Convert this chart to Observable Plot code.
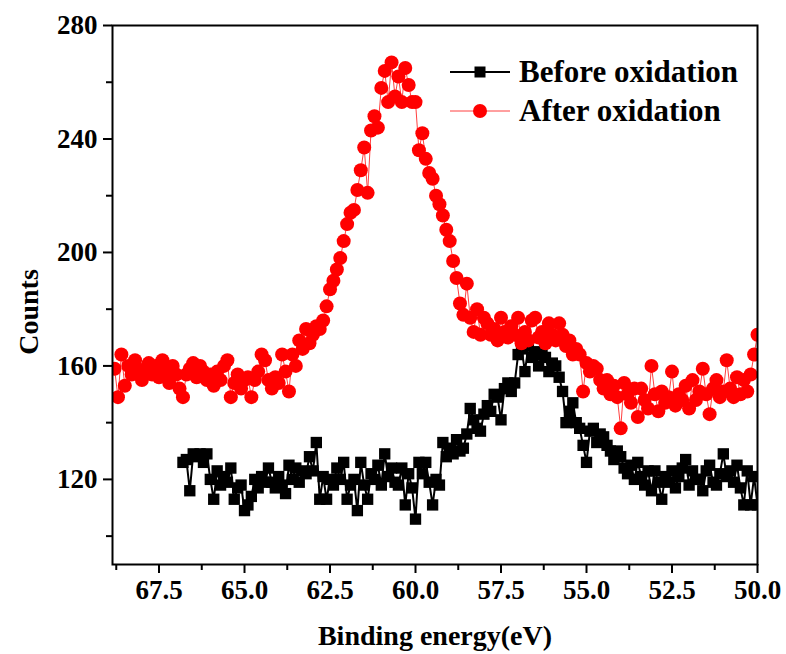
<!DOCTYPE html>
<html>
<head>
<meta charset="utf-8">
<script src="https://cdn.jsdelivr.net/npm/d3@7"></script>
<script src="https://cdn.jsdelivr.net/npm/@observablehq/plot@0.6"></script>
<style>
  html, body { margin: 0; padding: 0; background: #fff; }
  #chart { width: 786px; height: 654px; }
</style>
</head>
<body>
<div id="chart"></div>
<script>
// Binding energy grid (eV), 68.8 -> 50.0
const energy = [
  68.8,68.7,68.6,68.5,68.4,68.3,68.2,68.1,68.0,67.9,
  67.8,67.7,67.6,67.5,67.4,67.3,67.2,67.1,67.0,66.9,
  66.8,66.7,66.6,66.5,66.4,66.3,66.2,66.1,66.0,65.9,
  65.8,65.7,65.6,65.5,65.4,65.3,65.2,65.1,65.0,64.9,
  64.8,64.7,64.6,64.5,64.4,64.3,64.2,64.1,64.0,63.9,
  63.8,63.7,63.6,63.5,63.4,63.3,63.2,63.1,63.0,62.9,
  62.8,62.7,62.6,62.5,62.4,62.3,62.2,62.1,62.0,61.9,
  61.8,61.7,61.6,61.5,61.4,61.3,61.2,61.1,61.0,60.9,
  60.8,60.7,60.6,60.5,60.4,60.3,60.2,60.1,60.0,59.9,
  59.8,59.7,59.6,59.5,59.4,59.3,59.2,59.1,59.0,58.9,
  58.8,58.7,58.6,58.5,58.4,58.3,58.2,58.1,58.0,57.9,
  57.8,57.7,57.6,57.5,57.4,57.3,57.2,57.1,57.0,56.9,
  56.8,56.7,56.6,56.5,56.4,56.3,56.2,56.1,56.0,55.9,
  55.8,55.7,55.6,55.5,55.4,55.3,55.2,55.1,55.0,54.9,
  54.8,54.7,54.6,54.5,54.4,54.3,54.2,54.1,54.0,53.9,
  53.8,53.7,53.6,53.5,53.4,53.3,53.2,53.1,53.0,52.9,
  52.8,52.7,52.6,52.5,52.4,52.3,52.2,52.1,52.0,51.9,
  51.8,51.7,51.6,51.5,51.4,51.3,51.2,51.1,51.0,50.9,
  50.8,50.7,50.6,50.5,50.4,50.3,50.2,50.1,50.0
];

// After oxidation counts
const afterCounts = [
  159,149,164,153,160,157,162,158,155,159,
  161,157,160,156,162,158,154,160,157,152,
  149,157,159,161,156,160,158,155,157,153,
  158,155,160,162,149,154,157,152,155,156,
  149,155,158,164,162,155,152,156,154,164,
  158,151,164,160,169,166,173,168,171,174,
  173,176,181,187,190,194,198,204,210,214,
  215,222,229,237,221,243,248,244,258,264,
  253,267,255,262,253,265,259,253,253,236,
  242,233,228,226,220,217,213,208,204,197,
  191,182,178,189,177,172,180,171,177,175,
  171,173,169,177,172,170,174,171,177,168,
  172,169,176,177,170,172,168,175,171,169,
  175,171,167,169,164,166,164,151,161,158,
  160,159,155,152,155,150,153,149,138,154,
  150,147,152,142,152,148,145,160,150,144,
  151,147,149,158,146,150,148,153,145,155,
  148,151,159,150,143,152,155,149,151,162,
  152,149,156,150,155,151,157,164,171
];

// Before oxidation counts (measured from 66.8 eV)
const beforeCounts = [
  null,null,null,null,null,null,null,null,null,null,
  null,null,null,null,null,null,null,null,null,null,
  126,127,116,129,128,129,126,129,120,113,
  123,118,121,119,124,113,117,118,109,111,
  114,120,117,121,119,124,119,117,121,118,
  115,125,120,124,119,123,122,128,123,133,
  113,121,113,120,118,124,120,126,113,118,
  120,109,126,118,113,122,120,125,118,129,
  121,124,119,118,124,111,122,117,106,126,
  122,126,119,111,120,118,133,128,131,129,
  134,130,131,136,145,141,138,137,143,146,
  144,150,149,141,152,154,151,154,164,166,
  158,167,163,165,160,164,163,158,161,160,
  156,151,140,144,147,140,138,132,126,137,
  138,133,136,135,132,130,127,130,128,124,
  122,125,120,126,121,118,123,116,123,119,
  113,121,119,123,117,121,124,127,118,123,
  120,120,116,123,125,119,118,122,129,121,
  123,119,125,117,111,123,111,121,111
];

const xMajor = [67.5, 65.0, 62.5, 60.0, 57.5, 55.0, 52.5, 50.0];
const xMinor = [68.75, 66.25, 63.75, 61.25, 58.75, 56.25, 53.75, 51.25];
const yMajor = [120, 160, 200, 240, 280];
const yMinor = [100, 140, 180, 220, 260];

const seriesNames = ["Before oxidation", "After oxidation"];

const before = energy.map((e, i) => ({e, v: beforeCounts[i]})).filter(d => d.v != null);
const after = energy.map((e, i) => ({e, v: afterCounts[i]}));

const FONT = "'Liberation Serif', 'Times New Roman', serif";

const chart = Plot.plot({
  width: 786,
  height: 654,
  marginLeft: 112,
  marginRight: 29,
  marginTop: 25,
  marginBottom: 90,
  style: {fontFamily: FONT, fontWeight: "bold", fontSize: "27px", color: "#000", background: "#fff", overflow: "visible"},
  x: {domain: [68.86, 50]},
  y: {domain: [90, 280]},
  marks: [
    Plot.line(before, {x: "e", y: "v", stroke: "#000", strokeWidth: 2, clip: true}),
    Plot.dot(before, {x: "e", y: "v", symbol: "square", r: 6.4, fill: "#000", clip: true}),
    Plot.line(after, {x: "e", y: "v", stroke: "#ff4040", strokeWidth: 1, clip: true}),
    Plot.dot(after, {x: "e", y: "v", r: 7, fill: "#ff0000", clip: true}),
    Plot.axisX({ticks: xMajor, tickSize: 9, tickPadding: 6, strokeWidth: 2, tickFormat: d => d.toFixed(1), label: null}),
    Plot.axisX({ticks: xMinor, tickSize: 6, strokeWidth: 2, tickFormat: () => "", label: null}),
    Plot.axisY({ticks: yMajor, tickSize: 9, tickPadding: 6, strokeWidth: 2, tickFormat: d => String(d), label: null}),
    Plot.axisY({ticks: yMinor, tickSize: 6, strokeWidth: 2, tickFormat: () => "", label: null}),
    Plot.frame({stroke: "#000", strokeWidth: 2})
  ]
});

document.getElementById("chart").appendChild(chart);

// Axis titles and legend
const svg = d3.select(chart);
svg.append("text")
  .attr("x", 435).attr("y", 645)
  .attr("text-anchor", "middle")
  .style("font-family", FONT).style("font-weight", "bold").style("font-size", "28px")
  .text("Binding energy(eV)");
svg.append("text")
  .attr("transform", "translate(38,312) rotate(-90)")
  .attr("text-anchor", "middle")
  .style("font-family", FONT).style("font-weight", "bold").style("font-size", "28px")
  .text("Counts");

const legend = svg.append("g");
const legendStyles = [
  {stroke: "#000", sw: 2, fill: "#000", sym: "square"},
  {stroke: "#ff4040", sw: 1, fill: "#ff0000", sym: "circle"}
];
seriesNames.forEach((name, i) => {
  const y = 72 + i * 39;
  const s = legendStyles[i];
  legend.append("line").attr("x1", 450).attr("x2", 510).attr("y1", y).attr("y2", y)
    .attr("stroke", s.stroke).attr("stroke-width", s.sw);
  if (s.sym === "square") {
    legend.append("rect").attr("x", 474.5).attr("y", y - 5.5).attr("width", 11).attr("height", 11).attr("fill", s.fill);
  } else {
    legend.append("circle").attr("cx", 480).attr("cy", y).attr("r", 7).attr("fill", s.fill);
  }
  legend.append("text").attr("x", 519).attr("y", y + 10)
    .attr("text-anchor", "start")
    .style("font-family", FONT).style("font-weight", "bold").style("font-size", "31px")
    .text(name);
});
</script>
</body>
</html>
